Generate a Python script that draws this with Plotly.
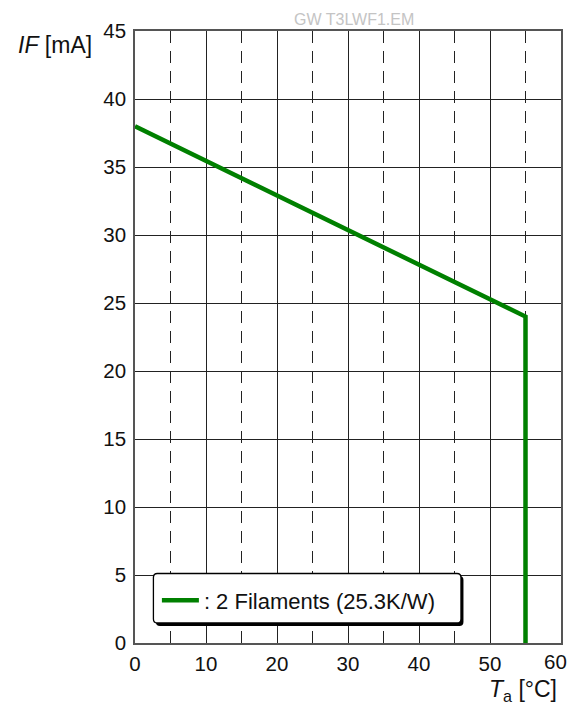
import plotly.graph_objects as go

# data
ta_c = [0, 55, 55]
if_ma = [38, 24, 0]
series_name = ": 2 Filaments (25.3K/W)"
x_ticks = [0, 10, 20, 30, 40, 50, 60]
y_ticks = [0, 5, 10, 15, 20, 25, 30, 35, 40, 45]

OFF = 8  # page body margin (each side)
PAGE_W, PAGE_H = 579, 714
W, H = PAGE_W - 2 * OFF, PAGE_H - 2 * OFF
# plot area in page pixels: x 135..563, y 31..643
ML = 135 - OFF
MR = (PAGE_W - OFF) - 563
MT = 31 - OFF
MB = (PAGE_H - OFF) - 643
PW, PH = W - ML - MR, H - MT - MB

def px(x):  # page pixel -> paper
    return (x - OFF - ML) / PW

def py(y):
    return (MT + PH - (y - OFF)) / PH

FONT = "Liberation Sans, Arial, sans-serif"
GREEN = "#008000"
TICKFONT = dict(family=FONT, size=20.5, color="#111111")

fig = go.Figure()
fig.add_trace(go.Scatter(x=ta_c, y=if_ma, mode="lines", name=series_name,
                         line=dict(color=GREEN, width=4.5), showlegend=True))

def rrect(x0, y0, x1, y1, r):
    rx, ry = r / PW, r / PH
    X0, X1 = px(x0), px(x1)
    Y0, Y1 = py(y1), py(y0)  # bottom, top in paper
    return (f"M{X0+rx},{Y1} L{X1-rx},{Y1} Q{X1},{Y1} {X1},{Y1-ry} "
            f"L{X1},{Y0+ry} Q{X1},{Y0} {X1-rx},{Y0} L{X0+rx},{Y0} "
            f"Q{X0},{Y0} {X0},{Y0+ry} L{X0},{Y1-ry} Q{X0},{Y1} {X0+rx},{Y1} Z")

shapes = [
    dict(type="path", xref="paper", yref="paper", path=rrect(156, 576, 465, 626, 4),
         fillcolor="black", line=dict(width=0), layer="above"),
    dict(type="path", xref="paper", yref="paper", path=rrect(153.5, 573.5, 462.5, 623, 4),
         fillcolor="white", line=dict(color="black", width=1.3), layer="above"),
]

axis_common = dict(
    showline=True, mirror=True, linecolor="#555555", linewidth=1.6,
    showgrid=True, gridcolor="#222222", gridwidth=1,
    zeroline=False, ticks="",
    tickfont=TICKFONT,
)

# the last x tick label sits at the very right page edge; draw it as an
# annotation nudged inward so the browser does not drop it
last_x = x_ticks[-1]

fig.update_layout(
    width=W, height=H,
    margin=dict(l=ML, r=MR, t=MT, b=MB, pad=0),
    paper_bgcolor="white", plot_bgcolor="white",
    xaxis=dict(range=[0, 60], tickvals=x_ticks[:-1], ticklabelstandoff=2,
               minor=dict(dtick=5, tick0=0, showgrid=True, gridcolor="#222222",
                          gridwidth=1, griddash="12px,8px", ticks=""),
               **axis_common),
    yaxis=dict(range=[0, 45], tickvals=y_ticks, ticklabelstandoff=3, **axis_common),
    showlegend=True,
    legend=dict(x=px(157), y=py(600.5), xanchor="left", yanchor="middle",
                bgcolor="rgba(0,0,0,0)", borderwidth=0, itemwidth=37,
                font=dict(family=FONT, size=22, color="#111111")),
    shapes=shapes,
    annotations=[
        dict(text=str(last_x), xref="x", yref="paper", x=last_x, y=py(662),
             xanchor="right", yanchor="middle", xshift=8, showarrow=False,
             font=TICKFONT),
        dict(text="<i>IF</i> [mA]", xref="paper", yref="paper", x=px(94), y=py(45),
             xanchor="right", yanchor="middle", showarrow=False,
             font=dict(family=FONT, size=23, color="#111111")),
        dict(text="<i>T</i><sub>a</sub> [°C]", xref="paper", yref="paper", x=px(561), y=py(690),
             xanchor="right", yanchor="middle", showarrow=False,
             font=dict(family=FONT, size=23, color="#111111")),
        dict(text="GW T3LWF1.EM", xref="paper", yref="paper", x=px(355), y=py(19),
             xanchor="center", yanchor="middle", showarrow=False,
             font=dict(family=FONT, size=16, color="#c4c4c4")),
    ],
)

fig.write_html("out.html", config=dict(displayModeBar=False))
